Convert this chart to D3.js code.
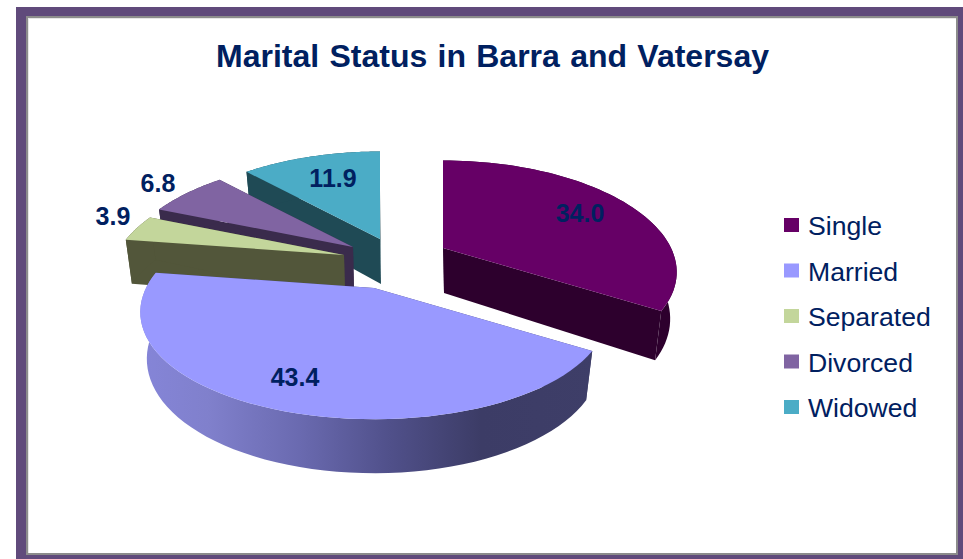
<!DOCTYPE html>
<html><head><meta charset="utf-8">
<script src="https://cdn.jsdelivr.net/npm/d3@7"></script>
<style>html,body{margin:0;padding:0;background:#fff}svg{display:block}text{font-family:"Liberation Sans",Arial,sans-serif}</style>
</head><body><svg id="c" width="963" height="559"></svg>
<script>
const categories = ["Single","Married","Separated","Divorced","Widowed"];
const values = [34.0,43.4,3.9,6.8,11.9];
const valueLabels = ["34.0","43.4","3.9","6.8","11.9"];
const title = "Marital Status in Barra and Vatersay";
const topColors = ["#660066","#9999ff","#c3d69b","#8064a2","#4bacc6"];
const sideColors = ["#2d002d","#43436f","#52563a","#3a2b4c","#1f4a55"];

// layout of the exploded pie (pixel offsets from the pie centre)
const centre = {x:385,y:260};
const explode = [[58,-12],[-11,28],[-41,-5],[-32,-13],[-5,-21]];
const R = 228, A = 105, Px = 0.22, Py = 0.2, D = 45, shrink = 0.972;
const labelAt = [[580,213],[295,377],[113,216],[158,183],[333,178]];
const drawOrder = [4,3,2,0,1];

const svg = d3.select("#c");
const navy = "#002060";
const color = d3.scaleOrdinal(categories, topColors);
const side = d3.scaleOrdinal(categories, sideColors);
const pie = d3.pie().sort(null).value(d=>d.v)(categories.map((c,i)=>({c,v:values[i],i})));

// frame
svg.append("rect").attr("x",16).attr("y",7).attr("width",947).attr("height",552).attr("fill","#604a7b");
svg.append("rect").attr("x",26).attr("y",16).attr("width",932).attr("height",539).attr("fill","#8c8c8c");
svg.append("rect").attr("x",28).attr("y",18).attr("width",928).attr("height",535).attr("fill","#e6e6e6");
svg.append("rect").attr("x",29).attr("y",19).attr("width",927).attr("height",534).attr("fill","#fff");

svg.append("text").attr("x",216).attr("y",67)
  .attr("font-size",32).attr("word-spacing",1.4).attr("font-weight","bold").attr("fill",navy).text(title);

const defs = svg.append("defs");
const g0 = defs.append("linearGradient").attr("id","rim1").attr("x1",140).attr("x2",595).attr("y1",0).attr("y2",0).attr("gradientUnits","userSpaceOnUse");
[[0,"#8585d8"],[0.15,"#8080cc"],[0.35,"#6a6ab0"],[0.55,"#50508a"],[0.75,"#3c3c66"],[1,"#3e3e68"]].forEach(s=>g0.append("stop").attr("offset",s[0]).attr("stop-color",s[1]));

function proj(ax,ay,r,t){
  const v=-Math.cos(t)*r;
  return [ax+r*R*Math.sin(t)/(1-Px*v), ay+v*A/(1-Py*v)];
}
function depthAt(t){const s=1/(1+Py*Math.cos(t));return D*(1+(s-1)*0.8);}
function bottom(ax,p,t){return [ax+(p[0]-ax)*shrink, p[1]+depthAt(t)];}
const line = d3.line();

drawOrder.forEach(i=>{
  const d = pie[i];
  const ax = centre.x+explode[i][0], ay = centre.y+explode[i][1];
  const a0=d.startAngle,a1=d.endAngle;
  const ts = d3.range(0,61).map(k=>a0+(a1-a0)*k/60);
  const topPts = ts.map(t=>proj(ax,ay,1,t));
  const botPts = ts.map((t,k)=>bottom(ax,topPts[k],t));
  const apex=[ax,ay], apexB=[ax+1,ay+D];
  const g = svg.append("g");
  const sideFill = i===1 ? "url(#rim1)" : side(d.data.c);
  g.append("path").attr("d",line([apex,topPts[0],botPts[0],apexB])+"Z").attr("fill",side(d.data.c));
  g.append("path").attr("d",line([apex,topPts[60],botPts[60],apexB])+"Z").attr("fill",side(d.data.c));
  g.append("path").attr("d",line(topPts.concat(botPts.slice().reverse()))+"Z").attr("fill",sideFill);
  g.append("path").attr("d",line([apex].concat(topPts))+"Z").attr("fill",color(d.data.c));
});

labelAt.forEach((p,i)=>{
  svg.append("text").attr("x",p[0]).attr("y",p[1]+9).attr("text-anchor","middle")
    .attr("font-size",25).attr("font-weight","bold").attr("fill",navy).text(valueLabels[i]);
});

// legend
const ly = d3.scalePoint().domain(categories).range([225,407]);
const leg = svg.append("g").selectAll("g").data(categories).join("g");
leg.append("rect").attr("x",784).attr("y",c=>ly(c)-7).attr("width",15).attr("height",14).attr("fill",c=>color(c));
leg.append("text").attr("x",808).attr("y",c=>ly(c)+10).attr("font-size",26.6).attr("fill",navy).text(c=>c);
</script></body></html>
